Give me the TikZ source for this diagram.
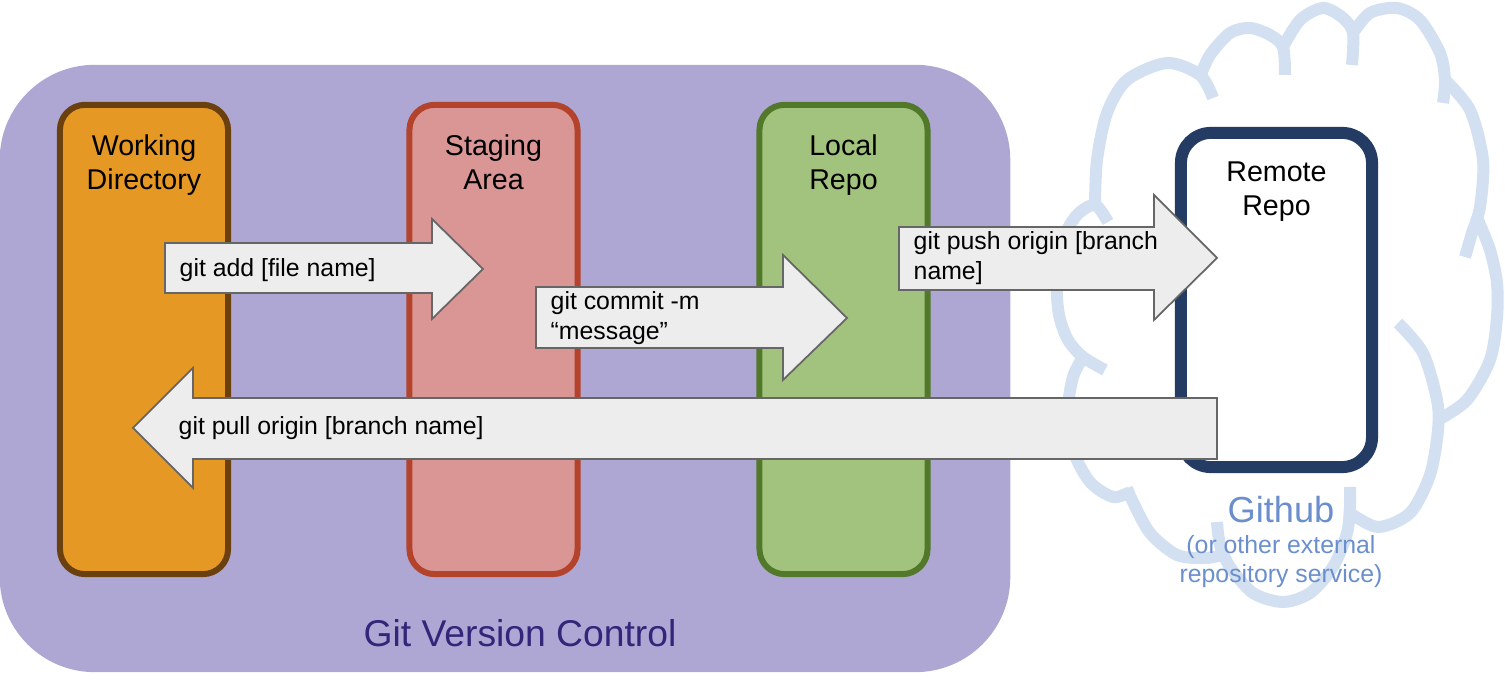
\documentclass[tikz,border=0pt]{standalone}
\usepackage{fontspec}
\setmainfont{Liberation Sans}
\usepackage{tikz}
\usetikzlibrary{positioning}

\definecolor{gitpurple}{HTML}{AFA7D3}
\definecolor{gittext}{HTML}{33267A}
\definecolor{workfill}{HTML}{E69824}
\definecolor{workline}{HTML}{6B400F}
\definecolor{stagefill}{HTML}{D99694}
\definecolor{stageline}{HTML}{B4432C}
\definecolor{localfill}{HTML}{A2C37E}
\definecolor{localline}{HTML}{52782A}
\definecolor{remoteline}{HTML}{243B63}
\definecolor{cloudblue}{HTML}{D3E0F1}
\definecolor{hubtext}{HTML}{6A8FCC}
\definecolor{arrowfill}{HTML}{EDEDED}
\definecolor{arrowline}{HTML}{666666}

\begin{document}
\begin{tikzpicture}[
  x=0.01cm, y=-0.01cm,
  area/.style={
    rectangle, draw, rounded corners=0.25cm,
    line width=0.06cm, inner sep=0pt, outer sep=0pt,
    minimum width=1.68cm, minimum height=4.69cm
  },
  title/.style={
    align=center, inner sep=0pt,
    font=\fontsize{8.14}{9.7}\selectfont
  },
  blockarrow/.style={draw=arrowline, fill=arrowfill, line width=0.5pt},
  cmd/.style={
    anchor=west, align=left, inner sep=0pt,
    font=\fontsize{7.06}{8.5}\selectfont
  },
  puff/.style={draw=cloudblue, line width=0.12cm}
]

\useasboundingbox (0,0) rectangle (1505,683);

% =====================================================
% GITHUB CLOUD
% =====================================================

\draw[puff] plot[smooth] coordinates {(1095,205) (1097,160) (1107,113) (1127,80) (1167,63) (1200,75) (1213,98)};
\draw[puff] plot[smooth] coordinates {(1200,77) (1210,55) (1230,33) (1250,28) (1270,35) (1283,47) (1285,75)};
\draw[puff] plot[smooth] coordinates {(1283,47) (1300,20) (1323,8) (1343,18) (1353,33) (1352,65)};
\draw[puff] plot[smooth] coordinates {(1353,33) (1370,13) (1397,8) (1420,20) (1440,53) (1445,80) (1443,103)};
\draw[puff] plot[smooth] coordinates {(1445,80) (1470,110) (1483,160) (1480,207) (1472,233) (1465,257)};
\draw[puff] plot[smooth] coordinates {(1478,220) (1490,250) (1497,283) (1497,317) (1490,360) (1467,400) (1438,420)};
\draw[puff] plot[smooth] coordinates {(1350,513) (1378,527) (1410,513) (1430,475) (1438,430) (1437,400) (1423,353) (1398,323)};
\draw[puff] plot[smooth] coordinates {(1217,522) (1220,545) (1230,567) (1253,593) (1283,602) (1310,593) (1333,567) (1347,533) (1350,505) (1350,487)};
\draw[puff] plot[smooth] coordinates {(1127,488) (1132,500) (1150,533) (1177,555) (1205,558) (1222,555)};
\draw[puff] plot[smooth] coordinates {(1083,357) (1073,377) (1068,410) (1073,450) (1090,482) (1113,497) (1130,492)};
\draw[puff] plot[smooth] coordinates {(1108,222) (1095,205) (1077,215) (1063,240) (1057,283) (1059,315) (1068,340) (1083,357) (1105,370)};

\node[font=\fontsize{10.3}{12}\selectfont, text=hubtext, inner sep=0pt]
  (github) at (1281,510) {Github};
\node[align=center, font=\fontsize{7.06}{8.25}\selectfont, text=hubtext, inner sep=0pt]
  (service) at (1281,562) {(or other external\\repository service)};

% =====================================================
% LOCAL GIT
% =====================================================

\node[rectangle, fill=gitpurple, rounded corners=0.95cm, inner sep=0pt,
  minimum width=10.1cm, minimum height=6.07cm] (git) at (505,368.5) {};
\node[font=\fontsize{10.6}{12}\selectfont, text=gittext, inner sep=0pt]
  (gitlabel) at (520,633) {Git Version Control};

\node[area, fill=workfill, draw=workline] (working) at (144,339.5) {};
\node[area, fill=stagefill, draw=stageline] (staging) at (493.5,339.5) {};
\node[area, fill=localfill, draw=localline] (local) at (843.5,339.5) {};

\node[title, below=0.29cm of working.north] (worktitle) {Working\\Directory};
\node[title, below=0.29cm of staging.north] (stagetitle) {Staging\\Area};
\node[title, below=0.29cm of local.north] (localtitle) {Local\\Repo};

% =====================================================
% REMOTE
% =====================================================

\node[rectangle, draw=remoteline, fill=white, rounded corners=0.3cm,
  line width=0.12cm, inner sep=0pt, minimum width=1.91cm,
  minimum height=3.34cm] (remote) at (1276.5,300) {};
\node[title, below=0.34cm of remote.north] (remotetitle) {Remote\\Repo};

% =====================================================
% COMMANDS
% =====================================================

\draw[blockarrow] (165,243) -- (432,243) -- (432,219) -- (483,269)
  -- (432,319) -- (432,293) -- (165,293) -- cycle;
\node[cmd] (add) at (179,270) {git add [file name]};

\draw[blockarrow] (536,287) -- (783,287) -- (783,255) -- (847,318)
  -- (783,380) -- (783,348) -- (536,348) -- cycle;
\node[cmd] (commit) at (550,318) {git commit -m\\“message”};

\draw[blockarrow] (899,227) -- (1154,227) -- (1154,195) -- (1217,258)
  -- (1154,320) -- (1154,290) -- (899,290) -- cycle;
\node[cmd] (push) at (913,258) {git push origin [branch\\name]};

\draw[blockarrow] (1217,398) -- (193,398) -- (193,368) -- (133,428)
  -- (193,488) -- (193,459) -- (1217,459) -- cycle;
\node[cmd] (pull) at (178,428) {git pull origin [branch name]};

\end{tikzpicture}
\end{document}
